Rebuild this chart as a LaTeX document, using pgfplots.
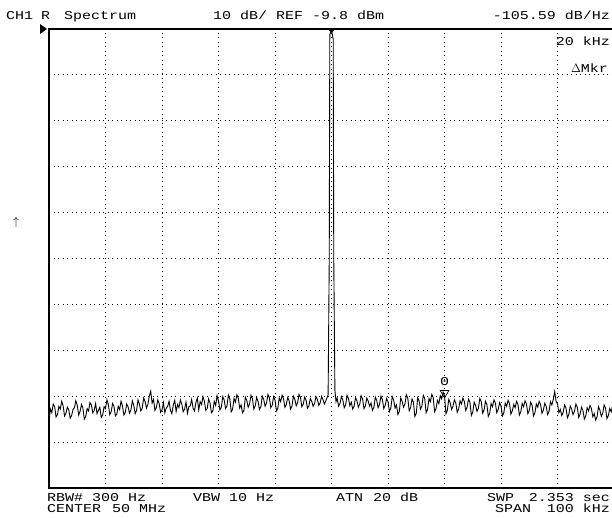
\documentclass[border=0pt]{standalone}
\usepackage{fontspec}
\usepackage{pgfplots}
\pgfplotsset{compat=1.18}
\newfontfamily\scr[FakeStretch=1.25]{Liberation Mono}
\newcommand{\scrf}{\scr\fontsize{12}{12}\selectfont}
\pgfplotstableread{
x y
-50.0 -95.2
-49.75 -92.6
-49.5 -93.4
-49.25 -91.5
-49.0 -92.1
-48.75 -94.3
-48.5 -93.8
-48.25 -92.0
-48.0 -92.6
-47.75 -90.9
-47.5 -91.9
-47.25 -94.1
-47.0 -93.5
-46.75 -92.2
-46.5 -92.8
-46.25 -94.6
-46.0 -94.0
-45.75 -92.7
-45.5 -92.3
-45.25 -90.8
-45.0 -91.8
-44.75 -93.9
-44.5 -93.1
-44.25 -91.6
-44.0 -92.4
-43.75 -94.8
-43.5 -94.2
-43.25 -92.5
-43.0 -93.0
-42.75 -91.2
-42.5 -91.7
-42.25 -93.4
-42.0 -92.9
-41.75 -91.4
-41.5 -93.6
-41.25 -92.9
-41.0 -92.2
-40.75 -94.4
-40.5 -93.9
-40.25 -92.1
-40.0 -92.5
-39.75 -90.6
-39.5 -91.6
-39.25 -93.8
-39.0 -93.2
-38.75 -91.4
-38.5 -92.0
-38.25 -94.1
-38.0 -93.7
-37.75 -92.0
-37.5 -92.7
-37.25 -90.9
-37.0 -91.9
-36.75 -93.9
-36.5 -93.3
-36.25 -91.5
-36.0 -92.1
-35.75 -93.5
-35.5 -92.8
-35.25 -90.8
-35.0 -91.8
-34.75 -93.6
-34.5 -92.9
-34.25 -90.6
-34.0 -91.5
-33.75 -93.0
-33.5 -92.4
-33.25 -90.2
-33.0 -90.9
-32.75 -92.4
-32.5 -91.6
-32.25 -89.8
-32.0 -88.7
-31.75 -91.3
-31.5 -90.5
-31.25 -92.9
-31.0 -92.3
-30.75 -90.6
-30.5 -91.4
-30.25 -93.3
-30.0 -92.8
-29.75 -91.2
-29.5 -93.4
-29.25 -92.4
-29.0 -92.0
-28.75 -90.9
-28.5 -92.9
-28.25 -93.6
-28.0 -91.7
-27.75 -90.7
-27.5 -93.1
-27.25 -91.6
-27.0 -92.3
-26.75 -90.6
-26.5 -91.5
-26.25 -93.2
-26.0 -92.6
-25.75 -91.1
-25.5 -93.5
-25.25 -92.1
-25.0 -91.9
-24.75 -90.5
-24.5 -92.4
-24.25 -93.0
-24.0 -91.2
-23.75 -90.2
-23.5 -92.8
-23.25 -91.0
-23.0 -91.6
-22.75 -89.9
-22.5 -90.9
-22.25 -92.9
-22.0 -92.5
-21.75 -90.4
-21.5 -91.3
-21.25 -93.4
-21.0 -93.0
-20.75 -90.9
-20.5 -91.8
-20.25 -89.7
-20.0 -90.8
-19.75 -92.8
-19.5 -92.2
-19.25 -89.9
-19.0 -90.6
-18.75 -92.5
-18.5 -91.9
-18.25 -89.6
-18.0 -90.4
-17.75 -93.2
-17.5 -92.6
-17.25 -90.3
-17.0 -91.1
-16.75 -89.5
-16.5 -90.2
-16.25 -92.4
-16.0 -91.7
-15.75 -93.4
-15.5 -92.9
-15.25 -90.0
-15.0 -90.7
-14.75 -92.2
-14.5 -91.5
-14.25 -89.6
-14.0 -90.3
-13.75 -92.6
-13.5 -91.9
-13.25 -90.1
-13.0 -90.9
-12.75 -92.7
-12.5 -92.1
-12.25 -89.8
-12.0 -90.5
-11.75 -92.0
-11.5 -91.3
-11.25 -89.4
-11.0 -90.1
-10.75 -92.3
-10.5 -91.8
-10.25 -89.9
-10.0 -90.6
-9.75 -93.0
-9.5 -92.4
-9.25 -90.2
-9.0 -91.0
-8.75 -89.6
-8.5 -90.3
-8.25 -92.2
-8.0 -91.6
-7.75 -90.1
-7.5 -90.8
-7.25 -92.6
-7.0 -92.0
-6.75 -89.8
-6.5 -90.4
-6.25 -91.9
-6.0 -91.2
-5.75 -89.4
-5.5 -90.0
-5.25 -92.1
-5.0 -91.5
-4.75 -90.0
-4.5 -90.7
-4.25 -92.4
-4.0 -91.9
-3.75 -90.3
-3.5 -90.9
-3.25 -92.0
-3.0 -91.4
-2.75 -89.9
-2.5 -90.5
-2.25 -91.8
-2.0 -91.2
-1.75 -89.8
-1.5 -90.6
-1.25 -91.5
-1.0 -90.8
-0.6 -89.5
-0.4 -60.0
-0.3 -11.0
0.0 -10.1
0.3 -12.0
0.4 -60.0
0.6 -88.5
0.8 -91.0
1.0 -90.2
1.25 -92.0
1.5 -91.4
1.75 -89.9
2.0 -90.6
2.25 -92.3
2.5 -91.7
2.75 -89.6
3.0 -90.3
3.25 -91.9
3.5 -91.1
3.75 -92.6
4.0 -92.0
4.25 -90.1
4.5 -90.8
4.75 -92.2
5.0 -91.5
5.25 -89.7
5.5 -90.4
5.75 -92.5
6.0 -91.9
6.25 -90.2
6.5 -90.9
6.75 -92.0
7.0 -91.3
7.25 -92.9
7.5 -92.2
7.75 -90.0
8.0 -90.7
8.25 -92.3
8.5 -91.6
8.75 -89.8
9.0 -90.5
9.25 -92.5
9.5 -91.8
9.75 -90.3
10.0 -91.0
10.25 -93.1
10.5 -92.4
10.75 -89.9
11.0 -90.6
11.25 -92.4
11.5 -91.7
11.75 -93.8
12.0 -93.1
12.25 -90.2
12.5 -90.9
12.75 -92.2
13.0 -91.5
13.25 -89.5
13.5 -90.2
13.75 -93.0
14.0 -92.3
14.25 -90.4
14.5 -91.1
14.75 -94.2
15.0 -93.6
15.25 -90.1
15.5 -90.8
15.75 -92.6
16.0 -91.9
16.25 -89.6
16.5 -90.3
16.75 -93.4
17.0 -92.7
17.25 -90.3
17.5 -91.0
17.75 -89.4
18.0 -90.1
18.25 -93.2
18.5 -92.5
18.75 -90.7
19.0 -91.4
19.25 -89.7
19.5 -90.4
19.75 -88.9
20.0 -89.6
20.25 -93.6
20.5 -92.9
20.75 -90.5
21.0 -91.2
21.25 -92.7
21.5 -92.0
21.75 -90.6
22.0 -91.3
22.25 -93.3
22.5 -92.6
22.75 -90.8
23.0 -91.5
23.25 -90.2
23.5 -90.9
23.75 -92.9
24.0 -92.2
24.25 -90.4
24.5 -91.1
24.75 -94.0
25.0 -93.3
25.25 -91.1
25.5 -91.8
25.75 -93.1
26.0 -92.4
26.25 -90.3
26.5 -91.0
26.75 -93.5
27.0 -92.8
27.25 -90.9
27.5 -91.6
27.75 -94.2
28.0 -93.5
28.25 -91.4
28.5 -92.1
28.75 -90.6
29.0 -91.3
29.25 -93.4
29.5 -92.7
29.75 -91.2
30.0 -91.9
30.25 -94.1
30.5 -93.4
30.75 -91.3
31.0 -92.0
31.25 -90.7
31.5 -91.4
31.75 -93.7
32.0 -93.0
32.25 -91.6
32.5 -92.3
32.75 -90.9
33.0 -91.6
33.25 -93.9
33.5 -93.2
33.75 -91.4
34.0 -92.1
34.25 -90.8
34.5 -91.5
34.75 -93.6
35.0 -92.9
35.25 -91.1
35.5 -91.8
35.75 -94.1
36.0 -93.4
36.25 -91.5
36.5 -92.2
36.75 -90.9
37.0 -91.6
37.25 -93.5
37.5 -92.8
37.75 -91.3
38.0 -92.0
38.25 -93.8
38.5 -93.1
38.75 -91.0
39.0 -91.7
39.25 -90.5
39.5 -88.8
39.75 -90.9
40.0 -91.5
40.25 -93.4
40.5 -92.7
40.75 -94.0
41.0 -93.3
41.25 -91.7
41.5 -92.4
41.75 -94.5
42.0 -93.8
42.25 -91.9
42.5 -92.6
42.75 -93.8
43.0 -93.1
43.25 -91.5
43.5 -92.2
43.75 -94.4
44.0 -93.7
44.25 -92.2
44.5 -92.9
44.75 -94.8
45.0 -94.1
45.25 -92.3
45.5 -93.0
45.75 -91.8
46.0 -92.5
46.25 -94.3
46.5 -93.6
46.75 -95.0
47.0 -94.3
47.25 -92.1
47.5 -92.8
47.75 -94.2
48.0 -93.5
48.25 -91.7
48.5 -92.4
48.75 -94.7
49.0 -94.0
49.25 -92.5
49.5 -93.2
49.75 -91.9
50.0 -92.6
}\spec
\begin{document}
\begin{tikzpicture}
\path[use as bounding box] (0pt,0pt) rectangle (612pt,517pt);
\begin{axis}[
  at={(49pt,29pt)}, anchor=south west,
  width=565pt, height=459pt, scale only axis,
  xmin=-50, xmax=50, ymin=-109.8, ymax=-9.8,
  xtick={-40,-30,-20,-10,0,10,20,30,40},
  ytick={-19.8,-29.8,-39.8,-49.8,-59.8,-69.8,-79.8,-89.8,-99.8},
  xticklabels={}, yticklabels={},
  major tick length=0pt,
  grid=major,
  major grid style={black, line width=0.9pt, dash pattern=on 0.9pt off 3.6pt},
  axis line style={black, line width=1.6pt},
  clip=false,
]
\addplot[black, line width=0.9pt] table[x=x,y=y] {\spec};
\addplot[only marks, mark=o, mark size=1.8pt, mark options={black, line width=1pt}] coordinates {(0,-10.1)};
\addplot[only marks, mark=triangle, mark size=5pt, mark options={black, line width=0.7pt, rotate=180}] coordinates {(20,-89.1)};
\node[font=\scrf, anchor=base] at (axis cs:20,-87.4) {0};
\fill[black] ([xshift=-9pt,yshift=5pt]rel axis cs:0,1) -- ([xshift=-2pt]rel axis cs:0,1) -- ([xshift=-9pt,yshift=-5pt]rel axis cs:0,1) -- cycle;
\end{axis}
% header
\node[anchor=base west, font=\scrf, inner sep=0] at (6pt,497pt) {CH1};
\node[anchor=base west, font=\scrf, inner sep=0] at (41pt,497pt) {R};
\node[anchor=base west, font=\scrf, inner sep=0] at (64pt,497pt) {Spectrum};
\node[anchor=base west, font=\scrf, inner sep=0] at (213pt,497pt) {10 dB/ REF -9.8 dBm};
\node[anchor=base east, font=\scrf, inner sep=0] at (610pt,497pt) {-105.59 dB/Hz};
% right in-frame
\node[anchor=base east, font=\scrf, inner sep=0] at (610pt,471pt) {20 kHz};
\node[anchor=base east, font=\scrf, inner sep=0] at (608pt,444pt) {$\Delta$Mkr};
\node[anchor=center, inner sep=0, font=\large] at (16pt,294pt) {$\uparrow$};
% footer
\node[anchor=base west, font=\scrf, inner sep=0] at (47pt,16pt) {RBW\# 300 Hz};
\node[anchor=base west, font=\scrf, inner sep=0] at (193pt,16pt) {VBW 10 Hz};
\node[anchor=base west, font=\scrf, inner sep=0] at (336pt,16pt) {ATN};
\node[anchor=base west, font=\scrf, inner sep=0] at (373pt,16pt) {20 dB};
\node[anchor=base west, font=\scrf, inner sep=0] at (487pt,16pt) {SWP};
\node[anchor=base east, font=\scrf, inner sep=0] at (610pt,16pt) {2.353 sec};
\node[anchor=base west, font=\scrf, inner sep=0] at (47pt,5pt) {CENTER};
\node[anchor=base west, font=\scrf, inner sep=0] at (112pt,5pt) {50 MHz};
\node[anchor=base west, font=\scrf, inner sep=0] at (495pt,5pt) {SPAN};
\node[anchor=base east, font=\scrf, inner sep=0] at (610pt,5pt) {100 kHz};
\end{tikzpicture}
\end{document}
